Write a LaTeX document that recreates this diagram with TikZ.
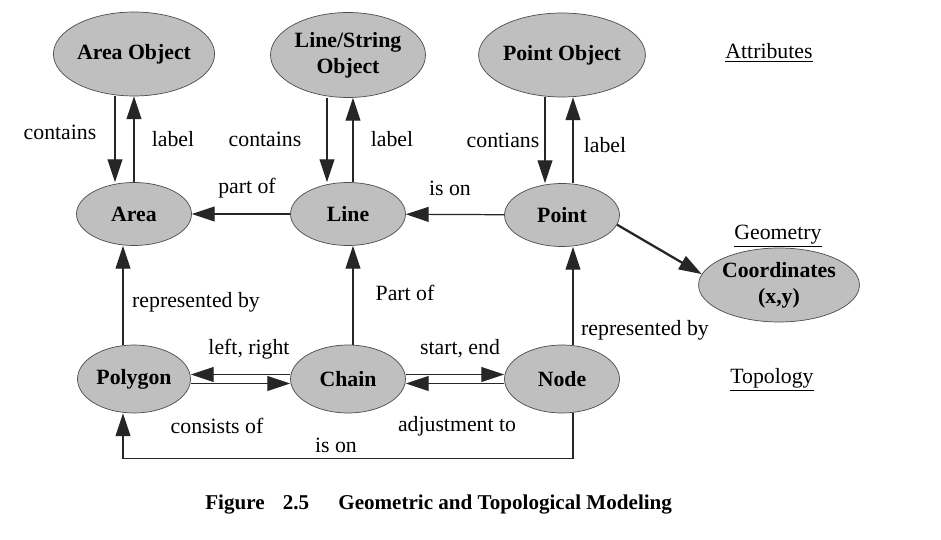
\documentclass[tikz,border=0pt]{standalone}
\usepackage{fontspec}
\setmainfont{Liberation Serif}
\usetikzlibrary{arrows.meta, positioning, shapes.geometric, calc}

\begin{document}
\begin{tikzpicture}[x=0.02cm, y=-0.02cm,
                obj/.style={draw=black!70, ellipse, fill=black!25, inner sep=0pt, align=center, font=\fontsize{12.4}{15}\selectfont\bfseries},
                edge/.style={-{Triangle[length=13pt, width=8.5pt]}, line width=0.7pt, draw=black!85},
                lbl/.style={font=\fontsize{12.4}{15}\selectfont, inner sep=0pt},
                capt/.style={font=\fontsize{12}{14}\selectfont\bfseries, inner sep=0pt}]

                \useasboundingbox[fill=white] (0,0) rectangle (941,540);

                % Attribute level
                \node[obj, minimum width=2.6cm, minimum height=1.68cm] (aobj) at (134,54) {Area Object};
                \node[obj, minimum width=3.1cm, minimum height=1.7cm] (lobj) at (348,55) {Line/String\\Object};
                \node[obj, minimum width=3.04cm, minimum height=1.68cm] (pobj) at (562,55) {Point Object};

                % Geometry level
                \node[obj, minimum width=2.3cm, minimum height=1.26cm] (area) at (134,214) {Area};
                \node[obj, minimum width=2.3cm, minimum height=1.26cm] (line) at (348,214) {Line};
                \node[obj, minimum width=2.3cm, minimum height=1.26cm] (point) at (562,215) {Point};
                \node[obj, minimum width=3.04cm, minimum height=1.48cm] (coord) at (779,285) {Coordinates\\(x,y)};

                % Topology level
                \node[obj, minimum width=2.26cm, minimum height=1.36cm] (poly) at (134,379) {Polygon};
                \node[obj, minimum width=2.3cm, minimum height=1.36cm] (chain) at (348,379) {Chain};
                \node[obj, minimum width=2.3cm, minimum height=1.36cm] (nodeN) at (562,379) {Node};

                % Level headings
                \node[lbl] (hattr) at (769,53) {\underline{Attributes}};
                \node[lbl] (hgeom) at (778,236) {\underline{Geometry}};
                \node[lbl] (htopo) at (772,380) {\underline{Topology}};

                % Edges between objects and geometry
                \draw[edge] ($(aobj.south)+(-19,0)$) -- ($(area.north)+(-19,0)$);
                \draw[edge] (area) -- (aobj);
                \draw[edge] ($(lobj.south)+(-21,0)$) -- ($(line.north)+(-21,0)$);
                \draw[edge] ($(line.north)+(5,0)$) -- ($(lobj.south)+(5,0)$);
                \draw[edge] ($(pobj.south)+(-17,0)$) -- ($(point.north)+(-17,0)$);
                \draw[edge] ($(point.north)+(11,0)$) -- ($(pobj.south)+(11,0)$);

                % Geometry edges
                \draw[edge] (line) -- (area);
                \draw[edge] (point) -- (line);
                \draw[edge, line width=1.3pt] (point.-10) -- (coord.172);

                % Topology edges
                \draw[edge] ($(poly.north)+(-11,0)$) -- ($(area.south)+(-11,0)$);
                \draw[edge] ($(chain.north)+(5,0)$) -- ($(line.south)+(5,0)$);
                \draw[edge] ($(nodeN.north)+(11,0)$) -- ($(point.south)+(11,0)$);
                \draw[edge] ($(chain.west)+(0,-4.5)$) -- ($(poly.east)+(0,-4.5)$);
                \draw[edge] ($(poly.east)+(0,4.5)$) -- ($(chain.west)+(0,4.5)$);
                \draw[edge] ($(chain.east)+(0,-4.5)$) -- ($(nodeN.west)+(0,-4.5)$);
                \draw[edge] ($(nodeN.west)+(0,4.5)$) -- ($(chain.east)+(0,4.5)$);
                \draw[edge] ($(nodeN.south)+(11,0)$) -- ++(0,45) -| ($(poly.south)+(-11,0)$);

                % Edge labels
                \node[lbl] (l1) at (60,132) {contains};
                \node[lbl] (l2) at (173,139) {label};
                \node[lbl] (l3) at (265,139) {contains};
                \node[lbl] (l4) at (392,139) {label};
                \node[lbl] (l5) at (503,140) {contians};
                \node[lbl] (l6) at (605,145) {label};
                \node[lbl] (l7) at (247,188) {part of};
                \node[lbl] (l8) at (450,188) {is on};
                \node[lbl] (l9) at (196,302) {represented by};
                \node[lbl] (l10) at (405,293) {Part of};
                \node[lbl] (l11) at (645,330) {represented by};
                \node[lbl] (l12) at (249,349) {left, right};
                \node[lbl] (l13) at (460,349) {start, end};
                \node[lbl] (l14) at (217,426) {consists of};
                \node[lbl] (l15) at (457,426) {adjustment to};
                \node[lbl] (l16) at (336,445) {is on};

                % Caption
                \node[capt, anchor=base east] (fig) at (265,510) {Figure};
                \node[capt, anchor=base] (fignum) at (296,510) {2.5};
                \node[capt, anchor=base west] (cap) at (338,510) {Geometric and Topological Modeling};
            \end{tikzpicture}
\end{document}
